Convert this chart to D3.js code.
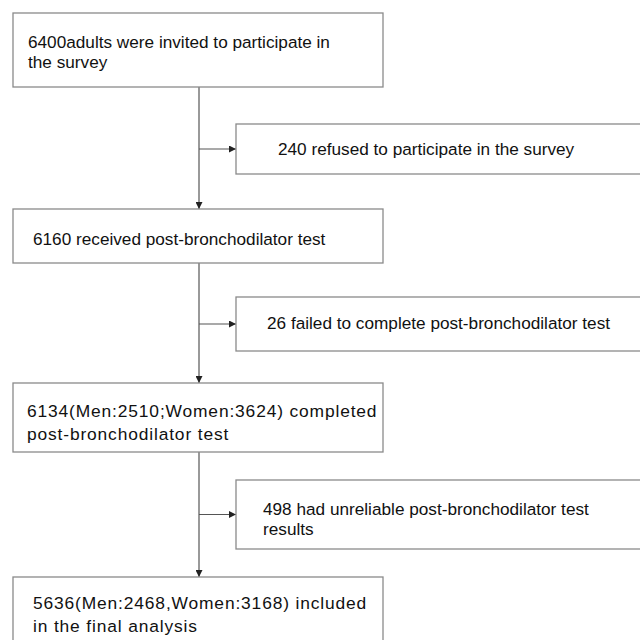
<!DOCTYPE html>
<html><head><meta charset="utf-8">
<script src="https://cdn.jsdelivr.net/npm/d3@7"></script>
<style>html,body{margin:0;padding:0;background:#fff;}</style>
</head><body>
<svg id="c" width="640" height="640"></svg>
<script>
// Flow data
const mainLabels = [
  ["6400adults were invited to participate in", "the survey"],
  ["6160 received post-bronchodilator test"],
  ["6134(Men:2510;Women:3624) completed", "post-bronchodilator test"],
  ["5636(Men:2468,Women:3168) included", "in the final analysis"]
];
const sideLabels = [
  ["240 refused to participate in the survey"],
  ["26 failed to complete post-bronchodilator test"],
  ["498 had unreliable post-bronchodilator test", "results"]
];
const counts = [6400, 6160, 6134, 5636];
const excluded = [240, 26, 498];

// Layout
const mainBoxes = [
  {x:13, y:13, w:370, h:74, tx:28, ty:48, fs:17.2, ls:20},
  {x:13, y:209, w:370, h:54, tx:33, ty:245, fs:17.2, ls:20},
  {x:13, y:383, w:370, h:69, tx:27, ty:417, fs:17.4, ls:23, alt:true},
  {x:13, y:577, w:370, h:80, tx:33, ty:609, fs:17.4, ls:23, alt:true}
];
const sideBoxes = [
  {x:236, y:124, w:420, h:50, tx:278, ty:155, fs:17.2, ls:20},
  {x:236, y:297, w:420, h:54, tx:267, ty:329, fs:17.2, ls:20},
  {x:236, y:480, w:420, h:69, tx:263, ty:515, fs:17.2, ls:20}
];
const spineX = 199;

const svg = d3.select("#c");
const defs = svg.append("defs");
defs.append("marker").attr("id","ah").attr("viewBox","0 0 10 10")
  .attr("refX",10).attr("refY",5).attr("markerWidth",7).attr("markerHeight",7)
  .attr("markerUnits","userSpaceOnUse").attr("orient","auto")
  .append("path").attr("d","M0,0 L10,5 L0,10 Z").attr("fill","#222");

const lineCol = "#555";
for (let i = 0; i < mainBoxes.length - 1; i++) {
  const a = mainBoxes[i], b = mainBoxes[i+1], s = sideBoxes[i];
  svg.append("line").attr("x1",spineX).attr("x2",spineX)
    .attr("y1",a.y+a.h).attr("y2",b.y)
    .attr("stroke",lineCol).attr("stroke-width",1.2).attr("marker-end","url(#ah)");
  const my = s.y + s.h/2;
  svg.append("line").attr("x1",spineX).attr("x2",s.x)
    .attr("y1",my).attr("y2",my)
    .attr("stroke",lineCol).attr("stroke-width",1.2).attr("marker-end","url(#ah)");
}

function drawBox(b, lines) {
  svg.append("rect").attr("x",b.x).attr("y",b.y).attr("width",b.w).attr("height",b.h)
    .attr("fill","#fff").attr("stroke","#8a8a8a").attr("stroke-width",1.3);
  const t = svg.append("text").attr("font-family","'Liberation Sans', Arial, sans-serif")
    .attr("font-size",b.fs).attr("fill","#111")
    .attr("letter-spacing", b.alt ? 0.85 : 0);
  lines.forEach((l,i)=>{
    t.append("tspan").attr("x",b.tx).attr("y",b.ty + i*b.ls).text(l);
  });
}
mainBoxes.forEach((b,i)=>drawBox(b, mainLabels[i]));
sideBoxes.forEach((b,i)=>drawBox(b, sideLabels[i]));
</script>
</body></html>
